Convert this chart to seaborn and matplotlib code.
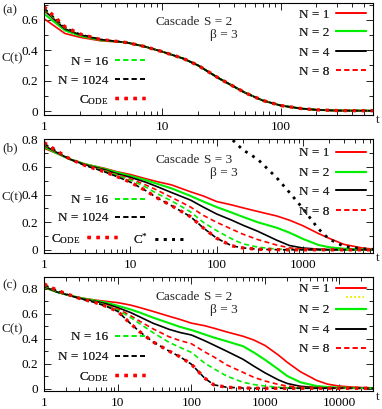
import matplotlib
matplotlib.use("Agg")
import matplotlib.pyplot as plt
import seaborn as sns
from matplotlib.lines import Line2D
from matplotlib.ticker import FixedLocator, LogLocator, MultipleLocator, NullFormatter, FuncFormatter

# ---- data ----
# panel (a): cascade S = 2, beta = 3
a_t = [1, 1.5, 2, 3, 5, 7, 10, 15, 20, 30, 50, 70, 100, 150, 200, 300, 600]
a_tail = [0.45, 0.425, 0.39, 0.345, 0.30, 0.215, 0.12, 0.07, 0.036, 0.016, 0.008, 0.003, 0.002]
a_n1 = [0.607, 0.51, 0.485, 0.462] + a_tail
a_n2 = [0.64, 0.53, 0.495, 0.466] + a_tail
a_n4 = [0.662, 0.54, 0.502, 0.47] + a_tail
a_n8 = [0.667, 0.545, 0.505, 0.47] + a_tail
a_n16 = [0.672, 0.548, 0.505, 0.47] + a_tail
a_n1024 = [0.677, 0.55, 0.505, 0.47] + a_tail
a_ode = [0.686, 0.555, 0.507, 0.47] + a_tail

# panel (b): cascade S = 3, beta = 3
b_t = [1, 1.5, 2, 3, 5, 7, 10, 15, 20, 30, 50, 70, 100, 150, 200, 300, 500, 700,
       1000, 1500, 2000, 3000, 5000, 7000]
b_n1 = [0.735, 0.69, 0.655, 0.62, 0.59, 0.565, 0.545, 0.515, 0.495, 0.47, 0.42, 0.39,
        0.35, 0.325, 0.305, 0.278, 0.245, 0.215, 0.175, 0.12, 0.085, 0.04, 0.013, 0.005]
b_n2 = [0.745, 0.69, 0.655, 0.62, 0.585, 0.56, 0.535, 0.505, 0.48, 0.445, 0.39, 0.35,
        0.31, 0.27, 0.24, 0.2, 0.16, 0.125, 0.08, 0.037, 0.02, 0.009, 0.004, 0.002]
b_n4 = [0.755, 0.695, 0.655, 0.615, 0.58, 0.55, 0.525, 0.49, 0.46, 0.415, 0.36, 0.31,
        0.26, 0.215, 0.18, 0.135, 0.07, 0.032, 0.014, 0.006, 0.003, 0.002, 0.001, 0.001]
b_n8 = [0.76, 0.695, 0.655, 0.615, 0.575, 0.545, 0.515, 0.47, 0.435, 0.38, 0.31, 0.25,
        0.2, 0.15, 0.115, 0.075, 0.035, 0.015, 0.006, 0.003, 0.002, 0.001, 0.001, 0.001]
b_n16 = [0.765, 0.70, 0.655, 0.612, 0.57, 0.54, 0.505, 0.455, 0.41, 0.355, 0.275, 0.2,
         0.14, 0.08, 0.045, 0.02, 0.006, 0.003, 0.002, 0.001, 0.001, 0.001, 0.001, 0.001]
b_n1024 = [0.77, 0.70, 0.655, 0.61, 0.565, 0.53, 0.49, 0.43, 0.38, 0.32, 0.24, 0.16,
           0.085, 0.03, 0.015, 0.005, 0.002, 0.001, 0.001, 0.001, 0.001, 0.001, 0.001, 0.001]
b_ode = [0.776, 0.705, 0.657, 0.61, 0.565, 0.53, 0.49, 0.43, 0.38, 0.32, 0.24, 0.16,
         0.085, 0.03, 0.015, 0.005, 0.002, 0.001, 0.001, 0.001, 0.001, 0.001, 0.001, 0.001]
b_cstar_t = [100, 150, 200, 300, 500, 700, 1000, 1500, 2000, 3000, 5000, 7000]
b_cstar = [0.93, 0.8, 0.725, 0.655, 0.52, 0.415, 0.30, 0.155, 0.08, 0.025, 0.008, 0.004]

# panel (c): cascade S = 2, beta = 3 (long times)
c_t = [1, 1.5, 2, 3, 5, 7, 10, 15, 20, 30, 50, 70, 100, 150, 200, 300, 500, 700,
       1000, 1500, 2000, 3000, 5000, 7000, 10000, 15000, 20000, 30000]
c_n1 = [0.81, 0.775, 0.755, 0.73, 0.71, 0.70, 0.69, 0.67, 0.65, 0.62, 0.58, 0.555,
        0.525, 0.505, 0.485, 0.455, 0.42, 0.39, 0.345, 0.27, 0.21, 0.135, 0.065, 0.035,
        0.02, 0.012, 0.008, 0.005]
c_n2 = [0.815, 0.775, 0.755, 0.73, 0.705, 0.69, 0.665, 0.635, 0.61, 0.57, 0.525, 0.495,
        0.47, 0.435, 0.41, 0.38, 0.34, 0.29, 0.23, 0.155, 0.1, 0.05, 0.02, 0.012,
        0.008, 0.005, 0.004, 0.003]
c_n4 = [0.82, 0.775, 0.755, 0.725, 0.70, 0.68, 0.65, 0.61, 0.575, 0.525, 0.475, 0.45,
        0.43, 0.385, 0.35, 0.30, 0.235, 0.18, 0.125, 0.07, 0.04, 0.018, 0.007, 0.004,
        0.003, 0.002, 0.002, 0.002]
c_n8 = [0.825, 0.78, 0.755, 0.725, 0.695, 0.67, 0.64, 0.585, 0.54, 0.48, 0.415, 0.385,
        0.36, 0.295, 0.255, 0.19, 0.13, 0.09, 0.06, 0.033, 0.02, 0.01, 0.005, 0.003,
        0.002, 0.002, 0.002, 0.002]
c_n16 = [0.83, 0.78, 0.755, 0.725, 0.695, 0.665, 0.63, 0.57, 0.52, 0.45, 0.37, 0.33,
         0.29, 0.205, 0.16, 0.1, 0.05, 0.032, 0.02, 0.01, 0.006, 0.003, 0.002, 0.002,
         0.002, 0.002, 0.002, 0.002]
c_n1024 = [0.835, 0.785, 0.76, 0.725, 0.69, 0.66, 0.62, 0.52, 0.455, 0.375, 0.30, 0.255,
           0.195, 0.085, 0.03, 0.01, 0.004, 0.002, 0.002, 0.002, 0.002, 0.002, 0.002, 0.002,
           0.002, 0.002, 0.002, 0.002]
c_ode = [0.84, 0.79, 0.762, 0.725, 0.69, 0.66, 0.62, 0.52, 0.455, 0.375, 0.30, 0.255,
         0.195, 0.085, 0.03, 0.01, 0.004, 0.002, 0.002, 0.002, 0.002, 0.002, 0.002, 0.002,
         0.002, 0.002, 0.002, 0.002]

# ---- styles ----
RED, GREEN, BLACK, YELLOW = "#ff0000", "#00ee00", "#000000", "#eeee00"
STYLES = {
    "N = 1": dict(color=RED, ls="-", lw=1.2),
    "N = 2": dict(color=GREEN, ls="-", lw=1.5),
    "N = 4": dict(color=BLACK, ls="-", lw=1.2),
    "N = 8": dict(color=RED, ls=(0, (3, 2)), lw=1.2),
    "N = 16": dict(color=GREEN, ls=(0, (3, 2)), lw=1.2),
    "N = 1024": dict(color=BLACK, ls=(0, (3, 2)), lw=1.2),
    "ode": dict(color=RED, ls=(0, (1, 1.7)), lw=2.4),
    "cstar": dict(color=BLACK, ls=(0, (1, 2)), lw=2.0),
    "blank": dict(color=YELLOW, ls=(0, (1, 1.5)), lw=1.2),
}
LABELS = {"ode": r"$\mathrm{C}_{\mathrm{ODE}}$", "cstar": r"$\mathrm{C}^{*}$", "blank": ""}

FIG_W, FIG_H = 382, 409
FS = 9.5

sns.set_theme(style="ticks")
plt.rcParams["font.family"] = ["Liberation Serif", "DejaVu Serif"]
plt.rcParams["mathtext.fontset"] = "custom"
plt.rcParams["mathtext.rm"] = "Liberation Serif"
plt.rcParams["mathtext.it"] = "Liberation Serif:italic"

fig = plt.figure(figsize=(FIG_W / 100, FIG_H / 100), dpi=100)


def fx(x):
    return x / FIG_W


def fy(y):
    return 1 - y / FIG_H


def make_axes(top, bottom, xmax, xticks, ylim, yticks):
    ax = fig.add_axes([fx(44), fy(bottom), fx(373) - fx(44), (bottom - top) / FIG_H])
    ax.set_xscale("log")
    ax.set_xlim(1, xmax)
    ax.set_ylim(*ylim)
    ax.xaxis.set_major_locator(FixedLocator(xticks))
    ax.xaxis.set_major_formatter(FuncFormatter(lambda v, p: f"{v:g}"))
    ax.xaxis.set_minor_locator(LogLocator(base=10, subs=range(2, 10), numticks=20))
    ax.xaxis.set_minor_formatter(NullFormatter())
    ax.yaxis.set_major_locator(FixedLocator(yticks))
    ax.yaxis.set_major_formatter(FuncFormatter(lambda v, p: "0" if abs(v) < 1e-9 else f"{v:.1f}"))
    ax.yaxis.set_minor_locator(MultipleLocator(0.1))
    ax.tick_params(which="both", direction="in", top=True, right=True, labelsize=FS,
                   width=0.6, colors="black")
    ax.tick_params(which="major", length=5, pad=4)
    ax.tick_params(which="minor", length=3)
    for s in ax.spines.values():
        s.set_linewidth(0.8)
        s.set_color("black")
    ax.set_xlabel("")
    ax.set_ylabel("")
    return ax


def draw(ax, t, c, key):
    st = STYLES[key]
    sns.lineplot(x=t, y=c, ax=ax, color=st["color"], linestyle=st["ls"], linewidth=st["lw"],
                 legend=False)


def key_entry(key, xr, yc, handlelength=2.3):
    st = STYLES[key]
    h = Line2D([], [], color=st["color"], linestyle=st["ls"], linewidth=st["lw"])
    label = LABELS.get(key, key)
    leg = fig.legend([h], [label], loc="center right", bbox_to_anchor=(fx(xr), fy(yc)),
                     bbox_transform=fig.transFigure, frameon=False, markerfirst=False,
                     handlelength=handlelength, handletextpad=0.5 if label else 0.0,
                     borderpad=0, borderaxespad=0, fontsize=FS)
    fig.add_artist(leg)


def annotate(top, label, s_val, ylab, tlab):
    fig.text(fx(2), fy(top), label, fontsize=FS, ha="left", va="center")
    fig.text(fx(2), fy(ylab), "C(t)", fontsize=FS, ha="left", va="center")
    fig.text(fx(378), fy(tlab), "t", fontsize=FS, ha="center", va="center")
    fig.text(fx(155), fy(top + 12), "Cascade", fontsize=FS, ha="left", va="center")
    fig.text(fx(204), fy(top + 12), f"S = {s_val}", fontsize=FS, ha="left", va="center")
    fig.text(fx(210), fy(top + 25), "\u03b2 = 3", fontsize=FS, ha="left", va="center")


# ---- panel (a) ----
ax_a = make_axes(3, 115, 600, [1, 10, 100], (-0.026, 0.71), [0, 0.2, 0.4, 0.6])
for t, c, k in [(a_t, a_n1, "N = 1"), (a_t, a_n2, "N = 2"), (a_t, a_n4, "N = 4"),
                (a_t, a_n8, "N = 8"), (a_t, a_n16, "N = 16"), (a_t, a_n1024, "N = 1024"),
                (a_t, a_ode, "ode")]:
    draw(ax_a, t, c, k)
annotate(10, "(a)", 2, 58, 120)
for k, y in [("N = 1", 15), ("N = 2", 33), ("N = 4", 53), ("N = 8", 72)]:
    key_entry(k, 366, y)
for k, y in [("N = 16", 62), ("N = 1024", 81), ("ode", 100)]:
    key_entry(k, 145, y)

# ---- panel (b) ----
ax_b = make_axes(138.5, 253, 6500, [1, 10, 100, 1000], (-0.022, 0.805),
                 [0, 0.2, 0.4, 0.6, 0.8])
for t, c, k in [(b_t, b_n1, "N = 1"), (b_t, b_n2, "N = 2"), (b_t, b_n4, "N = 4"),
                (b_t, b_n8, "N = 8"), (b_t, b_n16, "N = 16"), (b_t, b_n1024, "N = 1024"),
                (b_t, b_ode, "ode"), (b_cstar_t, b_cstar, "cstar")]:
    draw(ax_b, t, c, k)
annotate(148, "(b)", 3, 197, 258)
for k, y in [("N = 1", 153), ("N = 2", 173), ("N = 4", 192), ("N = 8", 212)]:
    key_entry(k, 366, y)
for k, y in [("N = 16", 200), ("N = 1024", 218)]:
    key_entry(k, 145, y)
key_entry("ode", 117, 239)
key_entry("cstar", 185, 239)

# ---- panel (c) ----
ax_c = make_axes(276.5, 391, 29000, [1, 10, 100, 1000, 10000], (-0.02, 0.9),
                 [0, 0.2, 0.4, 0.6, 0.8])
for t, c, k in [(c_t, c_n1, "N = 1"), (c_t, c_n2, "N = 2"), (c_t, c_n4, "N = 4"),
                (c_t, c_n8, "N = 8"), (c_t, c_n16, "N = 16"), (c_t, c_n1024, "N = 1024"),
                (c_t, c_ode, "ode")]:
    draw(ax_c, t, c, k)
annotate(285, "(c)", 2, 329, 397)
for k, y in [("N = 1", 289), ("N = 2", 310), ("N = 4", 330), ("N = 8", 349)]:
    key_entry(k, 366, y)
key_entry("blank", 364, 298, handlelength=1.4)
for k, y in [("N = 16", 337), ("N = 1024", 357), ("ode", 377)]:
    key_entry(k, 145, y)

fig.savefig("out.png", dpi=100)
